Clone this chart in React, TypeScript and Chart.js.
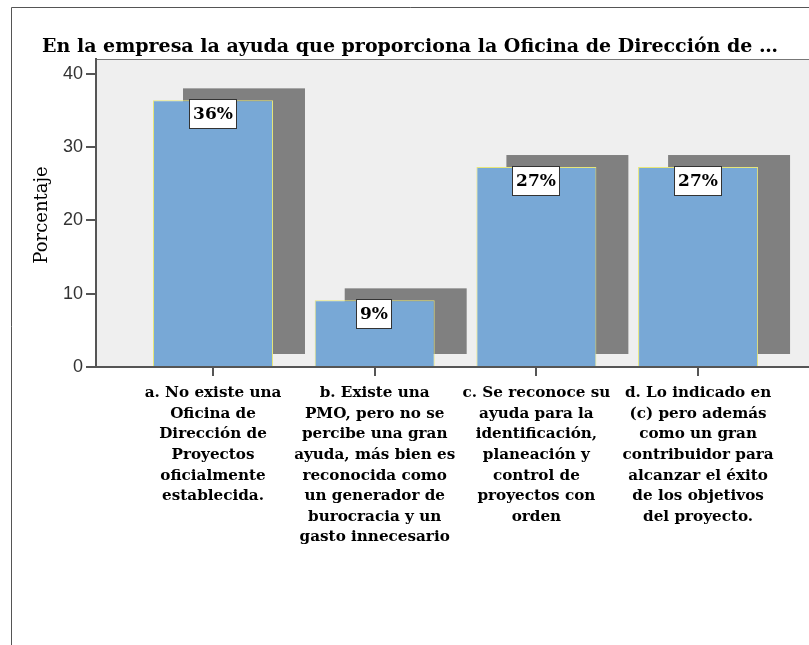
import React, { useEffect, useRef } from "react";
import { Chart, registerables } from "chart.js";

Chart.register(...registerables);

const categories: string[][] = [
  ["a. No existe una", "Oficina de", "Dirección de", "Proyectos", "oficialmente", "establecida."],
  ["b. Existe una", "PMO, pero no se", "percibe una gran", "ayuda, más bien es", "reconocida como", "un generador de", "burocracia y un", "gasto innecesario"],
  ["c. Se reconoce su", "ayuda para la", "identificación,", "planeación y", "control de", "proyectos con", "orden"],
  ["d. Lo indicado en", "(c) pero además", "como un gran", "contribuidor para", "alcanzar el éxito", "de los objetivos", "del proyecto."],
];
const percentages: number[] = [36.36, 9.09, 27.27, 27.27];
const valueLabels: string[] = ["36%", "9%", "27%", "27%"];
const yTicks: number[] = [0, 10, 20, 30, 40];
const chartTitle = "En la empresa la ayuda que proporciona la Oficina de Dirección de …";
const yTitle = "Porcentaje";

const SERIF = '"DejaVu Serif", serif';
const SANS = '"Liberation Sans", Arial, sans-serif';

export default function App() {
  const ref = useRef<HTMLCanvasElement | null>(null);
  useEffect(() => {
    document.body.style.margin = "0";
    const canvas = ref.current!;
    const decor = {
      id: "decor",
      beforeDraw(chart: any) {
        const { ctx, chartArea } = chart;
        ctx.save();
        ctx.fillStyle = "#ffffff";
        ctx.fillRect(0, 0, chart.width, chart.height);
        ctx.strokeStyle = "#555555";
        ctx.lineWidth = 1;
        ctx.beginPath();
        ctx.moveTo(11.5, chart.height + 2);
        ctx.lineTo(11.5, 7.5);
        ctx.lineTo(chart.width + 2, 7.5);
        ctx.stroke();
        ctx.fillStyle = "#efefef";
        ctx.fillRect(chartArea.left, chartArea.top, chartArea.right - chartArea.left, chartArea.bottom - chartArea.top);
        ctx.strokeStyle = "#777777";
        ctx.beginPath();
        ctx.moveTo(chartArea.left, chartArea.top + 0.5);
        ctx.lineTo(chartArea.right, chartArea.top + 0.5);
        ctx.stroke();
        ctx.fillStyle = "#000000";
        ctx.font = `bold 19px ${SERIF}`;
        ctx.textAlign = "center";
        ctx.textBaseline = "alphabetic";
        ctx.fillText(chartTitle, 410, 52);
        ctx.translate(42, 215);
        ctx.rotate(-Math.PI / 2);
        ctx.font = `18px ${SERIF}`;
        ctx.textBaseline = "middle";
        ctx.fillText(yTitle, 0, 0);
        ctx.restore();
      },
      beforeDatasetsDraw(chart: any) {
        const { ctx } = chart;
        const meta = chart.getDatasetMeta(0);
        ctx.save();
        ctx.fillStyle = "#808080";
        meta.data.forEach((el: any) => {
          const w = el.width;
          const h = el.base - el.y;
          ctx.fillRect(el.x - w / 2 + 30, el.y - 12, w + 2, h);
        });
        ctx.restore();
      },
      afterDatasetsDraw(chart: any) {
        const { ctx } = chart;
        const meta = chart.getDatasetMeta(0);
        ctx.save();
        ctx.font = `bold 17px ${SERIF}`;
        ctx.textAlign = "center";
        ctx.textBaseline = "middle";
        meta.data.forEach((el: any, i: number) => {
          const txt = valueLabels[i];
          const tw = ctx.measureText(txt).width;
          const bw = Math.round(tw + 7);
          const bh = 29;
          const bx = Math.round(el.x - bw / 2) - 1;
          const by = Math.round(el.y) - 1;
          ctx.fillStyle = "#ffffff";
          ctx.fillRect(bx, by, bw, bh);
          ctx.strokeStyle = "#333333";
          ctx.lineWidth = 1;
          ctx.strokeRect(bx + 0.5, by + 0.5, bw, bh);
          ctx.fillStyle = "#000000";
          ctx.fillText(txt, bx + bw / 2 + 0.5, by + bh / 2 + 1);
        });
        ctx.restore();
      },
    };

    const chart = new Chart(canvas, {
      type: "bar",
      data: {
        datasets: [
          {
            data: percentages.map((v, i) => ({ x: i, y: v })),
            backgroundColor: "#78a8d6",
            borderColor: "#e6e67a",
            borderWidth: 1,
            barPercentage: 0.742,
            categoryPercentage: 1,
          },
        ],
      },
      options: {
        responsive: false,
        animation: false,
        devicePixelRatio: 1,
        layout: { padding: { top: 59, left: 0, right: 0, bottom: 0 } },
        plugins: { legend: { display: false }, tooltip: { enabled: false }, title: { display: false } },
        scales: {
          x: {
            type: "linear",
            offset: false,
            min: -0.7236,
            max: 3.686,
            afterFit(scale: any) {
              scale.height = 278;
            },
            afterBuildTicks(scale: any) {
              scale.ticks = categories.map((_, i) => ({ value: i }));
            },
            ticks: {
              autoSkip: false,
              maxRotation: 0,
              minRotation: 0,
              includeBounds: false,
              padding: 7,
              color: "#000000",
              font: { family: SERIF, size: 15.2, weight: "bold", lineHeight: "20.6px" },
              callback: (v: any) => {
                const idx = Math.round(Number(v));
                return categories[idx] ?? "";
              },
            },
            grid: { offset: false, drawOnChartArea: false, drawTicks: true, tickLength: 9, color: "#555555", lineWidth: 2 },
            border: { display: true, color: "#555555", width: 2 },
          },
          y: {
            type: "linear",
            min: 0,
            max: 42,
            afterFit(scale: any) {
              scale.width = 96;
            },
            afterBuildTicks(scale: any) {
              scale.ticks = yTicks.map((v) => ({ value: v }));
            },
            ticks: {
              includeBounds: false,
              padding: 3,
              color: "#333333",
              font: { family: SANS, size: 18 },
            },
            grid: { drawOnChartArea: false, drawTicks: true, tickLength: 10, color: "#555555", lineWidth: 2 },
            border: { display: true, color: "#555555", width: 2 },
          },
        },
      },
      plugins: [decor],
    } as any);
    return () => chart.destroy();
  }, []);
  return <canvas ref={ref} width={809} height={645} style={{ display: "block", width: 809, height: 645 }} />;
}
